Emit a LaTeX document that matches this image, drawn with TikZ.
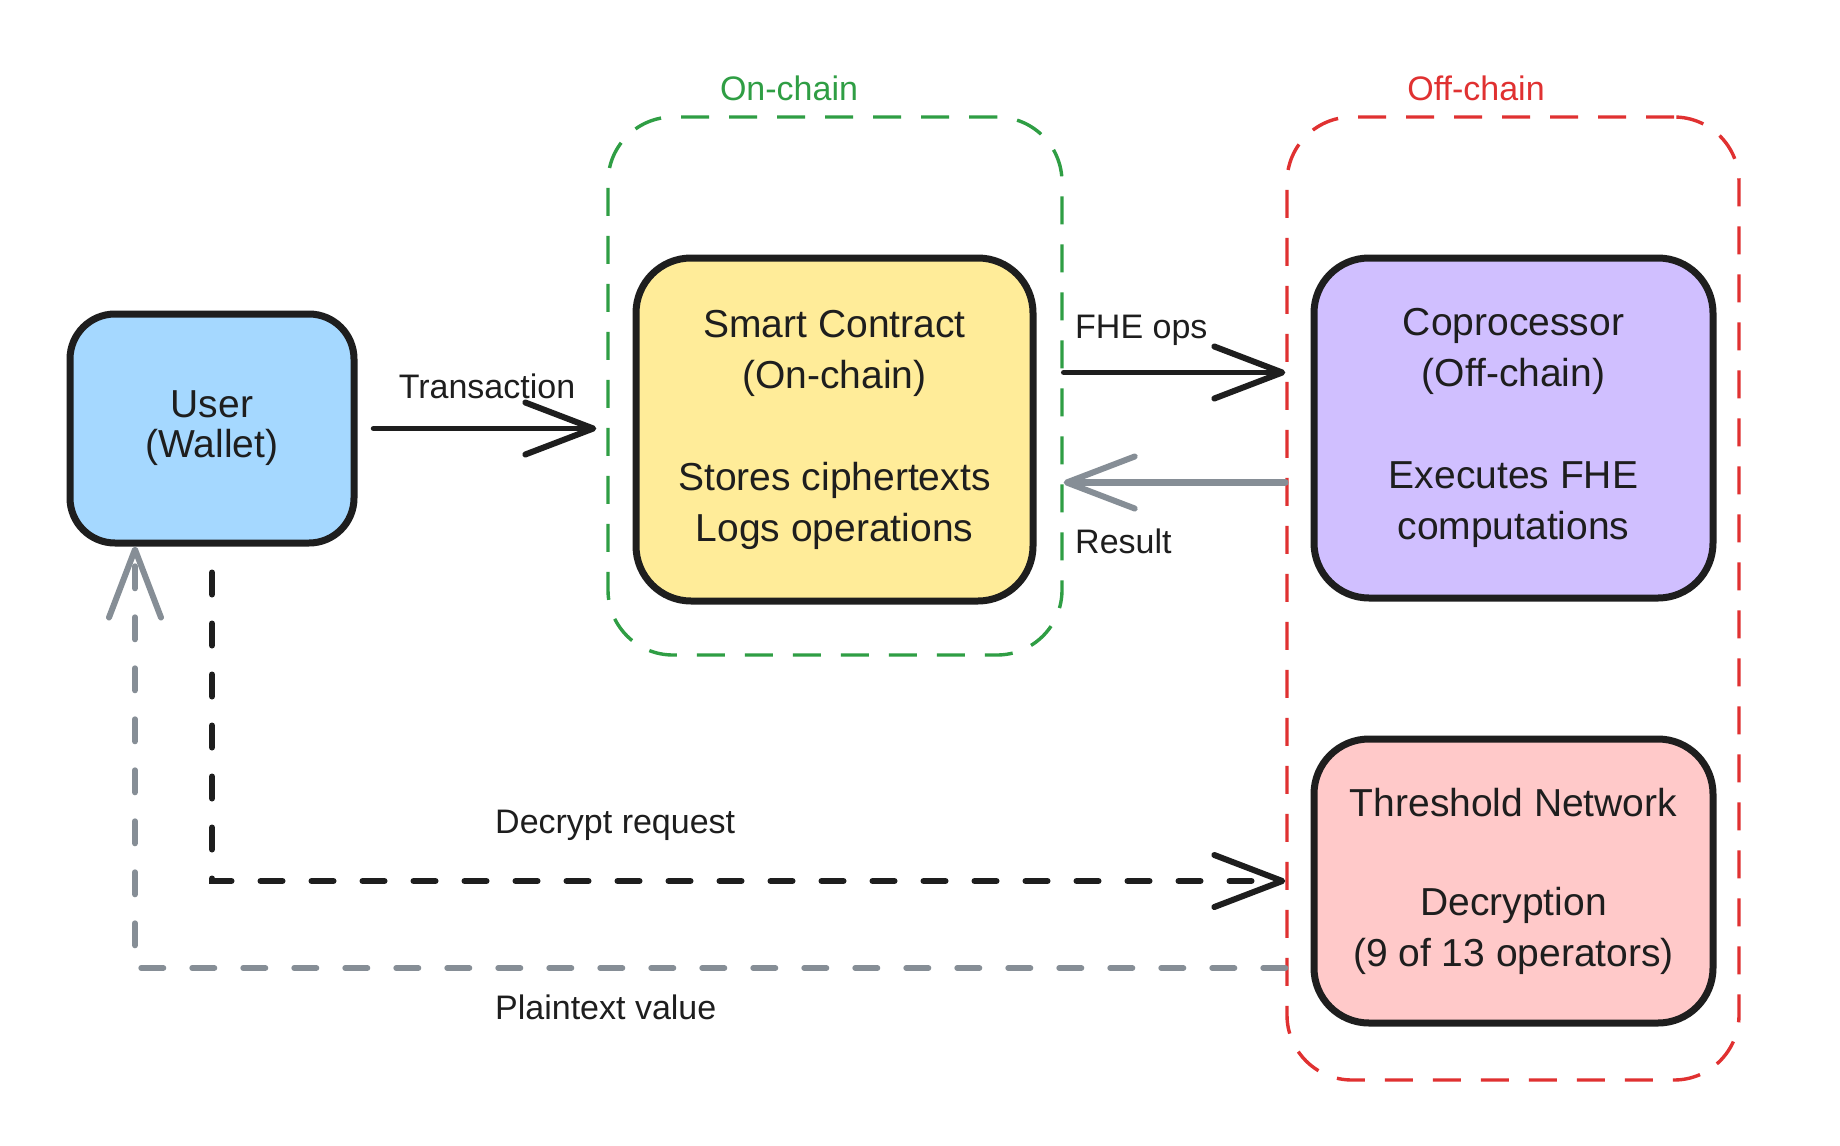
\documentclass[tikz,border=0pt]{standalone}
\usepackage{fontspec}
\setmainfont{Liberation Sans}
\usetikzlibrary{arrows.meta,calc}
\definecolor{ink}{HTML}{1E1E1E}
\definecolor{userfill}{HTML}{A5D8FF}
\definecolor{scfill}{HTML}{FFEC99}
\definecolor{copfill}{HTML}{D0BFFF}
\definecolor{tnfill}{HTML}{FFC9C9}
\definecolor{grn}{HTML}{2F9E44}
\definecolor{rd}{HTML}{E03131}
\definecolor{gry}{HTML}{868E96}
\newcommand{\bxfont}{\fontsize{39}{51}\selectfont}
\newcommand{\lbfont}{\fontsize{34}{40}\selectfont}
\begin{document}
\begin{tikzpicture}[x=1pt,y=-1pt,
  box/.style={draw=ink, line width=7pt, rounded corners=55pt, inner sep=0pt, align=center, text=ink, font=\bxfont},
  group/.style={line width=3.4pt, rounded corners=65pt, dash pattern=on 28pt off 20pt, inner sep=0pt},
  lbl/.style={text=ink, font=\lbfont, inner sep=0pt},
  flow/.style={draw=ink, line width=5.5pt, line cap=round, -{Straight Barb[length=68pt,width=52pt,line width=6pt,round]}},
  dflow/.style={line width=6pt, line cap=round, dash pattern=on 22pt off 29pt, -{Straight Barb[length=68pt,width=52pt,line width=6pt,round]}}
]
\fill[white] (0,0) rectangle (1840,1146);
\useasboundingbox (0,0) rectangle (1840,1146);

% groups
\node[group, draw=grn, minimum width=454pt, minimum height=538pt] (onchain) at (835,386) {};
\node[group, draw=rd, minimum width=452pt, minimum height=963pt] (offchain) at (1513,598.5) {};
\node[lbl, text=grn] (onlbl) at (789,88) {On-chain};
\node[lbl, text=rd] (offlbl) at (1476,88) {Off-chain};

% boxes
\node[box, fill=userfill, rounded corners=45pt, minimum width=284pt, minimum height=229pt, font=\fontsize{39}{40}\selectfont] (user) at (212,428.5) {User\\(Wallet)};
\node[box, fill=scfill, minimum width=397pt, minimum height=343pt] (sc) at (834.5,429.5) {Smart Contract\\(On-chain)\\[51pt]Stores ciphertexts\\Logs operations};
\node[box, fill=copfill, minimum width=399pt, minimum height=340pt] (cop) at (1513.5,428) {Coprocessor\\(Off-chain)\\[51pt]Executes FHE\\computations};
\node[box, fill=tnfill, minimum width=399pt, minimum height=284pt] (tn) at (1513.5,881) {Threshold Network\\[48pt]Decryption\\(9 of 13 operators)};

% connectors
\draw[flow, shorten <=16pt, shorten >=10pt] (user.east) -- (user.east -| onchain.west);
\coordinate (fa) at ($(sc.center)+(0,-57)$);
\coordinate (rb) at ($(sc.center)+(0,53)$);
\draw[flow] (fa -| onchain.east) -- (fa -| offchain.west);
\draw[flow, draw=gry, line width=6.5pt] (rb -| offchain.west) -- (rb -| onchain.east);
\draw[dflow, draw=ink, shorten <=26pt] (user.south) |- (tn.west -| offchain.west);
\coordinate (pstart) at ($(tn.west -| offchain.west)+(0,87)$);
\coordinate (pend) at ($(user.south)+(-77,0)$);
\draw[dflow, draw=gry] (pstart) -| (pend);

% labels
\node[lbl] (txlbl) at (487,386) {Transaction};
\node[lbl, anchor=west] (fhelbl) at (1075,330) {FHE ops};
\node[lbl, anchor=west] (reslbl) at (1075,541) {Result};
\node[lbl, anchor=west] (declbl) at (495,825) {Decrypt request};
\node[lbl, anchor=west] (ptlbl) at (495,1007) {Plaintext value};
\end{tikzpicture}
\end{document}
